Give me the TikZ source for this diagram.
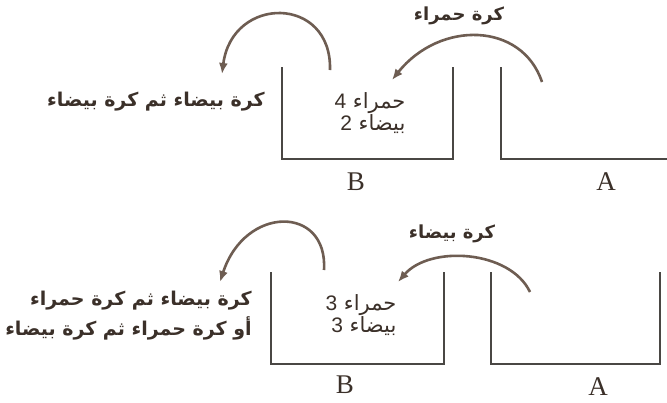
\documentclass[tikz,border=0pt]{standalone}
\usepackage{fontspec}
\setmainfont{Liberation Serif}
\TeXXeTstate=1
\newfontfamily\arabicfont[Script=Arabic,BoldFont={DejaVu Sans Bold}]{DejaVu Sans}
\newfontfamily\digitfont{Liberation Sans}
\newcommand{\cnt}[2]{\hbox{{\digitfont #1}\ \beginR #2\endR}}
\usetikzlibrary{arrows.meta}
\definecolor{inkc}{HTML}{3B3029}
\definecolor{arrc}{HTML}{6E5D52}
\definecolor{boxc}{HTML}{4A4744}
\tikzset{
  boxline/.style={draw=boxc, line width=1.2pt},
  movearrow/.style={draw=arrc, line width=2.6pt, -{Latex[length=11pt,width=9pt]}},
  arlabel/.style={text=inkc, font=\arabicfont\bfseries\fontsize{18}{20}\selectfont, inner sep=0pt},
  sidetext/.style={text=inkc, font=\arabicfont\bfseries\fontsize{19}{30}\selectfont, inner sep=0pt, align=right, anchor=east},
  content/.style={text=inkc, font=\arabicfont\fontsize{21}{20}\selectfont, inner sep=0pt, align=right},
  boxname/.style={text=inkc, font=\fontsize{27}{29}\selectfont, inner sep=0pt}
}
\begin{document}
\begin{tikzpicture}[x=1pt,y=-1pt]
\useasboundingbox[fill=white] (0,0) rectangle (667,402);
% ---------- top row ----------
\draw[boxline] (282,67) -- (282,159) -- (453,159) -- (453,67);
\draw[boxline] (501,67) -- (501,159) -- (667,159);
\node[boxname] (B1) at (356,182) {B};
\node[boxname] (A1) at (606,182) {A};
\node[content] (c1) at (370,113) {\cnt{4}{حمراء}\\\cnt{2}{بيضاء}};
\node[arlabel] (l1) at (459,16) {\beginR كرة حمراء\endR};
\node[sidetext] (s1) at (265,102) {\beginR كرة بيضاء ثم كرة بيضاء\endR};
\coordinate (a1s) at (542,82);
\coordinate (a1e) at (392,80);
\coordinate (b1s) at (330,70);
\coordinate (b1e) at (222,74);
\draw[movearrow] (a1s) .. controls (522,22) and (440,20) .. (a1e);
\draw[movearrow] (b1s) .. controls (332,-5) and (232,-5) .. (b1e);
% ---------- bottom row ----------
\draw[boxline] (271,272) -- (271,364) -- (444,364) -- (444,272);
\draw[boxline] (491,272) -- (491,364) -- (660,364) -- (660,272);
\node[boxname] (B2) at (345,385) {B};
\node[boxname] (A2) at (598,387) {A};
\node[content] (c2) at (361,315) {\cnt{3}{حمراء}\\\cnt{3}{بيضاء}};
\node[arlabel] (l2) at (452,234) {\beginR كرة بيضاء\endR};
\node[sidetext] (s2) at (252,316) {\beginR كرة بيضاء ثم كرة حمراء\endR\\\beginR أو كرة حمراء ثم كرة بيضاء\endR};
\coordinate (a2s) at (530,292);
\coordinate (a2e) at (398,282);
\coordinate (b2s) at (324,270);
\coordinate (b2e) at (220,282);
\draw[movearrow] (a2s) .. controls (510,250) and (430,245) .. (a2e);
\draw[movearrow] (b2s) .. controls (328,205) and (245,205) .. (b2e);
\end{tikzpicture}
\end{document}
